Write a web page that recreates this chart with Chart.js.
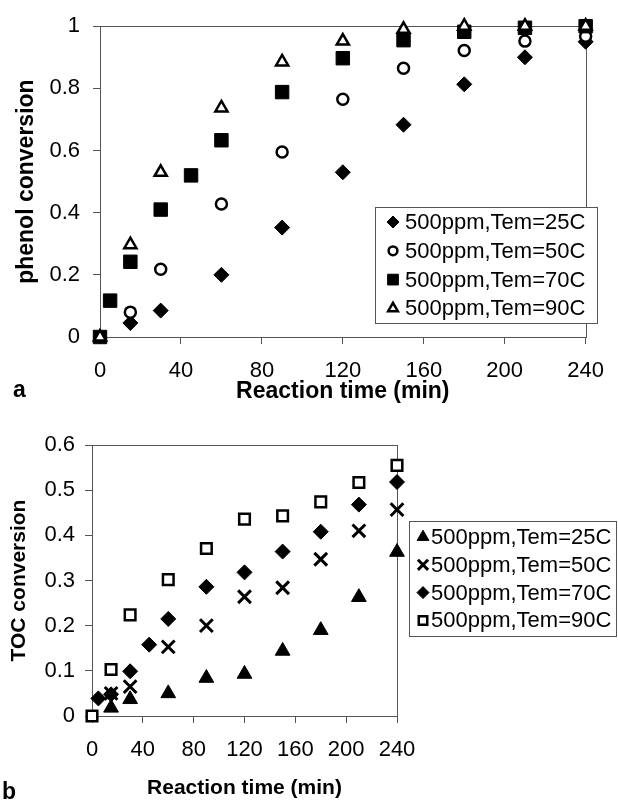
<!DOCTYPE html>
<html>
<head>
<meta charset="utf-8">
<script src="https://cdn.jsdelivr.net/npm/chart.js@4.4.0/dist/chart.umd.min.js"></script>
<style>
body{margin:0;background:#fff;width:618px;height:802px;position:relative;overflow:hidden;font-family:"Liberation Sans",Arial,sans-serif}
canvas{position:absolute;left:0}
#ca{top:0}
#cb{top:420px}
.tag{position:absolute;font-weight:bold;font-size:23px;line-height:1}
</style>
</head>
<body>
<canvas id="ca" width="618" height="410"></canvas>
<canvas id="cb" width="618" height="382"></canvas>
<div class="tag" style="left:13px;top:378px">a</div>
<div class="tag" style="left:2px;top:780px">b</div>
<script>
// panel a - phenol conversion
var phenolT25 = [15, 30, 60, 90, 120, 150, 180, 210, 240];
var phenol25  = [0.045, 0.085, 0.2, 0.352, 0.53, 0.683, 0.813, 0.9, 0.95];
var phenolT50 = [15, 30, 60, 90, 120, 150, 180, 210, 240];
var phenol50  = [0.08, 0.218, 0.428, 0.595, 0.765, 0.865, 0.922, 0.952, 0.968];
var phenolT70 = [0, 5, 15, 30, 45, 60, 90, 120, 150, 180, 210, 240];
var phenol70  = [0, 0.117, 0.242, 0.41, 0.52, 0.633, 0.788, 0.897, 0.955, 0.982, 0.995, 1.0];
var phenolT90 = [0, 15, 30, 60, 90, 120, 150, 180, 210, 240];
var phenol90  = [0, 0.297, 0.53, 0.737, 0.885, 0.952, 0.99, 1.0, 1.0, 1.0];

// panel b - TOC conversion
var tocT25 = [15, 30, 60, 90, 120, 150, 180, 210, 240];
var toc25  = [0.018, 0.037, 0.05, 0.084, 0.093, 0.144, 0.19, 0.263, 0.363];
var tocT50 = [15, 30, 60, 90, 120, 150, 180, 210, 240];
var toc50  = [0.05, 0.065, 0.153, 0.2, 0.264, 0.284, 0.347, 0.41, 0.457];
var tocT70 = [5, 15, 30, 45, 60, 90, 120, 150, 180, 210, 240];
var toc70  = [0.039, 0.048, 0.099, 0.158, 0.215, 0.286, 0.318, 0.364, 0.408, 0.468, 0.518];
var tocT90 = [0, 15, 30, 60, 90, 120, 150, 180, 210, 240];
var toc90  = [0, 0.103, 0.224, 0.302, 0.371, 0.436, 0.443, 0.474, 0.517, 0.555];

var labels = ['500ppm,Tem=25C', '500ppm,Tem=50C', '500ppm,Tem=70C', '500ppm,Tem=90C'];
var timeTicks = {min: 0, max: 240, step: 40};

Chart.defaults.font.family = '"Liberation Sans", Arial, sans-serif';
Chart.defaults.color = '#000';

function pts(xs, ys) {
	return xs.map(function(x, i){ return {x: x, y: ys[i]}; });
}

function series(label, data, style, r, fill, bw, order) {
	return {
		label: label, data: data, pointStyle: style, pointRadius: r,
		pointBackgroundColor: fill, pointBorderColor: '#000', pointBorderWidth: bw,
		order: order, clip: false
	};
}

// box round the plot area
var frame = {
	id: 'frame',
	beforeDatasetsDraw: function(chart) {
		var ctx = chart.ctx, a = chart.chartArea;
		ctx.save();
		ctx.strokeStyle = '#555';
		ctx.lineWidth = 1;
		ctx.strokeRect(Math.round(a.left) + 0.5, Math.round(a.top) + 0.5, Math.round(a.width), Math.round(a.height));
		ctx.restore();
	}
};

// legend drawn as a framed box at a given place
var boxLegend = {
	id: 'boxLegend',
	afterDraw: function(chart, args, o) {
		var ctx = chart.ctx;
		ctx.save();
		ctx.fillStyle = '#fff';
		ctx.fillRect(o.x, o.y, o.w, o.h);
		ctx.strokeStyle = '#555';
		ctx.lineWidth = 1;
		ctx.strokeRect(o.x + 0.5, o.y + 0.5, o.w, o.h);
		chart.data.datasets.forEach(function(ds, i) {
			var cy = o.y + o.first + i * o.step;
			ctx.fillStyle = ds.pointBackgroundColor;
			ctx.strokeStyle = ds.pointBorderColor;
			ctx.lineWidth = ds.pointBorderWidth;
			Chart.helpers.drawPoint(ctx, {pointStyle: ds.pointStyle, radius: ds.pointRadius * o.scale, borderWidth: ds.pointBorderWidth, rotation: 0}, o.mx, cy);
			ctx.fillStyle = '#000';
			ctx.font = o.font;
			ctx.textAlign = 'left';
			ctx.textBaseline = 'middle';
			ctx.fillText(ds.label, o.tx, cy + 1);
		});
		ctx.restore();
	}
};

function plain(v) {
	return String(Number(v.toFixed(2)));
}

function axis(opts) {
	return {
		type: 'linear', min: opts.min, max: opts.max,
		ticks: {stepSize: opts.step, font: {size: 22}, color: '#000', padding: opts.pad, maxRotation: 0, callback: plain},
		grid: {drawOnChartArea: false, tickLength: 7, color: '#555'},
		border: {color: '#555'},
		title: {display: true, text: opts.title, color: '#000', font: {size: opts.tsize, weight: 'bold'}, padding: opts.tpad},
		afterFit: opts.fit
	};
}

new Chart(document.getElementById('ca'), {
	type: 'scatter',
	data: {
		datasets: [
			series(labels[0], pts(phenolT25, phenol25), 'rectRot', 7.5, '#000', 1, 4),
			series(labels[1], pts(phenolT50, phenol50), 'circle', 5.5, '#fff', 2.5, 3),
			series(labels[2], pts(phenolT70, phenol70), 'rect', 9.5, '#000', 1, 2),
			series(labels[3], pts(phenolT90, phenol90), 'triangle', 7, '#fff', 2.5, 1)
		]
	},
	options: {
		responsive: false, animation: false, events: [],
		layout: {padding: {top: 20, right: 21, bottom: 4, left: 0}},
		scales: {
			x: axis({min: timeTicks.min, max: timeTicks.max, step: timeTicks.step, pad: 14, title: 'Reaction time (min)', tsize: 23,
				tpad: {top: 0, bottom: 1}, fit: function(s){ s.height = 69; }}),
			y: axis({min: 0, max: 1, step: 0.2, pad: 13, title: 'phenol conversion', tsize: 23,
				tpad: {top: 13, bottom: 0}, fit: function(s){ s.width = 100; }})
		},
		plugins: {
			legend: {display: false}, tooltip: {enabled: false},
			boxLegend: {x: 375, y: 207, w: 222, h: 116, first: 15, step: 28.8, mx: 393, tx: 405, scale: 0.8, font: '22px "Liberation Sans", Arial, sans-serif'}
		}
	},
	plugins: [frame, boxLegend]
});

new Chart(document.getElementById('cb'), {
	type: 'scatter',
	data: {
		datasets: [
			series(labels[0], pts(tocT25, toc25), 'triangle', 8.5, '#000', 1, 1),
			series(labels[1], pts(tocT50, toc50), 'crossRot', 9, '#000', 3, 2),
			series(labels[2], pts(tocT70, toc70), 'rectRot', 7.5, '#000', 1, 3),
			series(labels[3], pts(tocT90, toc90), 'rect', 7.5, '#fff', 2.5, 4)
		]
	},
	options: {
		responsive: false, animation: false, events: [],
		layout: {padding: {top: 25, right: 221, bottom: 0, left: 0}},
		scales: {
			x: axis({min: timeTicks.min, max: timeTicks.max, step: timeTicks.step, pad: 14, title: 'Reaction time (min)', tsize: 21,
				tpad: {top: 0, bottom: 1}, fit: function(s){ s.height = 86; }}),
			y: axis({min: 0, max: 0.6, step: 0.1, pad: 10, title: 'TOC conversion', tsize: 21,
				tpad: {top: 7, bottom: 0}, fit: function(s){ s.width = 92; }})
		},
		plugins: {
			legend: {display: false}, tooltip: {enabled: false},
			boxLegend: {x: 409, y: 101, w: 207, h: 115, first: 16, step: 27.8, mx: 423, tx: 431, scale: 0.8, font: '22px "Liberation Sans", Arial, sans-serif'}
		}
	},
	plugins: [frame, boxLegend]
});
</script>
</body>
</html>
